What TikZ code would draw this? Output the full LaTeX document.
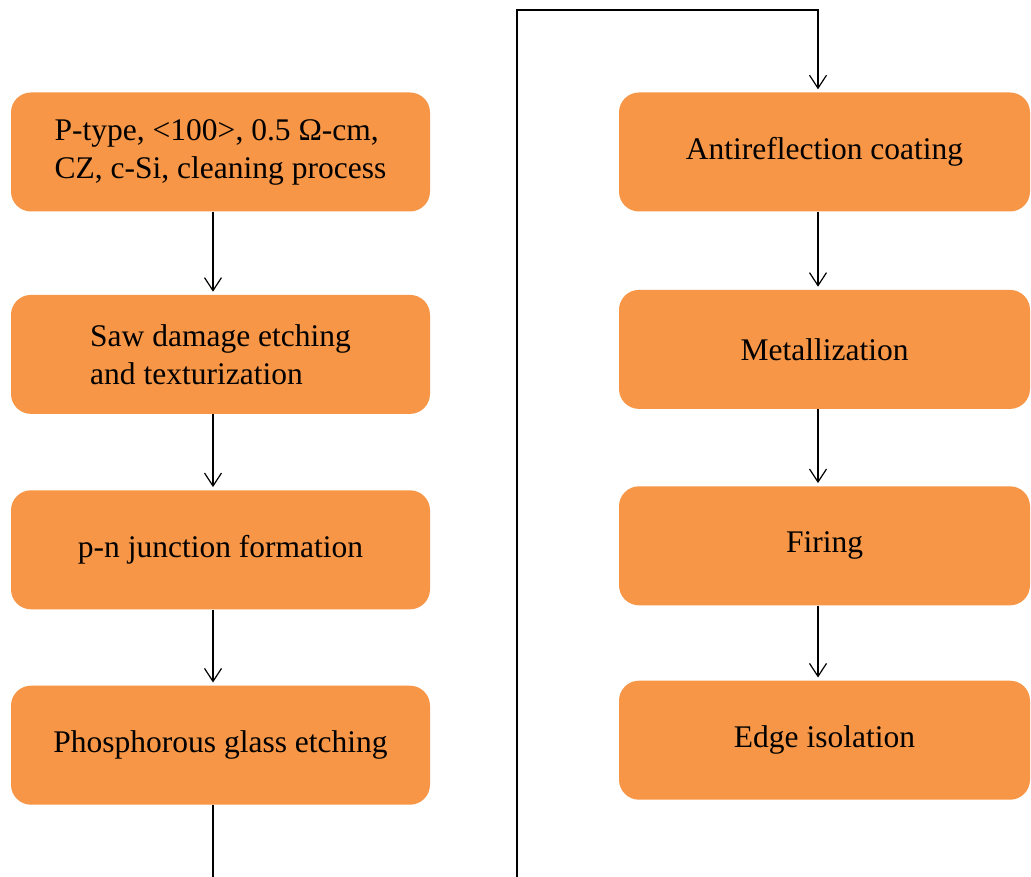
\documentclass[tikz,border=0pt]{standalone}
\usepackage{fontspec}
\setmainfont{Liberation Serif}
\usepackage{xcolor}
\usetikzlibrary{arrows.meta,positioning}
\definecolor{stageorange}{HTML}{F79646}

\begin{document}
\begin{tikzpicture}
			[x=1pt, y=-1pt,
			% STYLES
			% The process style is used to draw each stage of the cell
			process/.style={rectangle, rounded corners=20pt, fill=stageorange, inner sep=4pt, minimum height=119pt, align=left, font=\fontsize{31.5}{38}\selectfont},
			% The flow style is used to draw the links between stages
			flow/.style={line width=1.2pt, -{Straight Barb[length=13pt,width=17pt,line width=1.2pt]}, shorten >=3pt}]
			\useasboundingbox[fill=white] (0,0) rectangle (1031,877);
			% Draw left column
			\node [process, minimum width=419pt] at (220.5,152) (wafer) {P-type, <100>, 0.5 Ω-cm,\\CZ, c-Si, cleaning process};
			\node [process, minimum width=419pt, below=83pt of wafer] (texture) {Saw damage etching\\and texturization};
			\node [process, minimum width=419pt, below=76pt of texture] (junction) {p-n junction formation};
			\node [process, minimum width=419pt, below=76pt of junction] (psg) {Phosphorous glass etching};
			% Draw right column
			\node [process, minimum width=411pt] at (824.5,152) (arc) {Antireflection coating};
			\node [process, minimum width=411pt, below=78pt of arc] (metal) {Metallization};
			\node [process, minimum width=411pt, below=77pt of metal] (firing) {Firing};
			\node [process, minimum width=411pt, below=75pt of firing] (edge) {Edge isolation};
			%%%%%%%%%%%%%%%
			% Helper points for the links
			\coordinate (lx) at (213,0);
			\coordinate (rx) at (818,0);
			\coordinate (lbot) at (213,877);
			\coordinate (rbot) at (517,877);
			\coordinate (rtop) at (517,10);
			%%%%%%%%%%%%%%%
			% Draw the links between stages
			\draw [flow] (wafer.south -| lx) -- (texture.north -| lx);
			\draw [flow] (texture.south -| lx) -- (junction.north -| lx);
			\draw [flow] (junction.south -| lx) -- (psg.north -| lx);
			\draw [line width=1.2pt] (psg.south -| lx) -- (lbot);
			\draw [flow] (rbot) -- (rtop) -| (arc.north -| rx);
			\draw [flow] (arc.south -| rx) -- (metal.north -| rx);
			\draw [flow] (metal.south -| rx) -- (firing.north -| rx);
			\draw [flow] (firing.south -| rx) -- (edge.north -| rx);
\end{tikzpicture}
\end{document}
